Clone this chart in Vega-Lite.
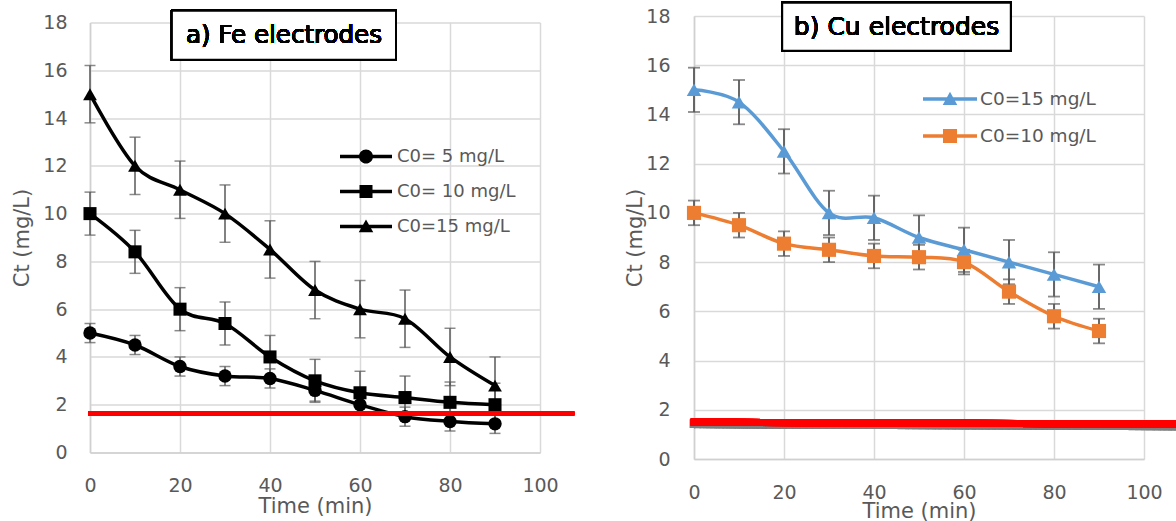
{
  "$schema": "https://vega.github.io/schema/vega-lite/v6.json",
  "background": "white",
  "padding": {"left": 11, "top": 1, "right": 0, "bottom": 0},
  "config": {
    "font": "DejaVu Sans",
    "view": {"stroke": null},
    "axis": {
      "labelFont": "DejaVu Sans", "labelFontSize": 19, "labelColor": "#595959", "labelFlush": false, "labelOverlap": false,
      "titleFont": "DejaVu Sans", "titleFontSize": 21, "titleColor": "#595959", "titleFontWeight": "normal",
      "gridColor": "#d9d9d9", "gridWidth": 1.5, "domainColor": "#d0d0d0", "domainWidth": 1.5, "ticks": false
    },
    "legend": {
      "orient": "none", "title": null, "padding": 0, "labelFont": "DejaVu Sans", "labelColor": "#595959",
      "symbolStrokeWidth": 0, "symbolOpacity": 1, "rowPadding": -6
    }
  },
  "datasets": {
    "fe": [
      {"t": 0, "ct": 5.0, "err": 0.4, "series": "C0= 5 mg/L"},
      {"t": 10, "ct": 4.5, "err": 0.4, "series": "C0= 5 mg/L"},
      {"t": 20, "ct": 3.6, "err": 0.4, "series": "C0= 5 mg/L"},
      {"t": 30, "ct": 3.2, "err": 0.4, "series": "C0= 5 mg/L"},
      {"t": 40, "ct": 3.1, "err": 0.4, "series": "C0= 5 mg/L"},
      {"t": 50, "ct": 2.6, "err": 0.45, "series": "C0= 5 mg/L"},
      {"t": 60, "ct": 2.0, "err": 0.4, "series": "C0= 5 mg/L"},
      {"t": 70, "ct": 1.5, "err": 0.4, "series": "C0= 5 mg/L"},
      {"t": 80, "ct": 1.3, "err": 0.4, "series": "C0= 5 mg/L"},
      {"t": 90, "ct": 1.2, "err": 0.4, "series": "C0= 5 mg/L"},
      {"t": 0, "ct": 10.0, "err": 0.9, "series": "C0= 10 mg/L"},
      {"t": 10, "ct": 8.4, "err": 0.9, "series": "C0= 10 mg/L"},
      {"t": 20, "ct": 6.0, "err": 0.9, "series": "C0= 10 mg/L"},
      {"t": 30, "ct": 5.4, "err": 0.9, "series": "C0= 10 mg/L"},
      {"t": 40, "ct": 4.0, "err": 0.9, "series": "C0= 10 mg/L"},
      {"t": 50, "ct": 3.0, "err": 0.9, "series": "C0= 10 mg/L"},
      {"t": 60, "ct": 2.5, "err": 0.9, "series": "C0= 10 mg/L"},
      {"t": 70, "ct": 2.3, "err": 0.9, "series": "C0= 10 mg/L"},
      {"t": 80, "ct": 2.1, "err": 0.85, "series": "C0= 10 mg/L"},
      {"t": 90, "ct": 2.0, "err": 0.9, "series": "C0= 10 mg/L"},
      {"t": 0, "ct": 15.0, "err": 1.2, "series": "C0=15 mg/L"},
      {"t": 10, "ct": 12.0, "err": 1.2, "series": "C0=15 mg/L"},
      {"t": 20, "ct": 11.0, "err": 1.2, "series": "C0=15 mg/L"},
      {"t": 30, "ct": 10.0, "err": 1.2, "series": "C0=15 mg/L"},
      {"t": 40, "ct": 8.5, "err": 1.2, "series": "C0=15 mg/L"},
      {"t": 50, "ct": 6.8, "err": 1.2, "series": "C0=15 mg/L"},
      {"t": 60, "ct": 6.0, "err": 1.2, "series": "C0=15 mg/L"},
      {"t": 70, "ct": 5.6, "err": 1.2, "series": "C0=15 mg/L"},
      {"t": 80, "ct": 4.0, "err": 1.2, "series": "C0=15 mg/L"},
      {"t": 90, "ct": 2.8, "err": 1.2, "series": "C0=15 mg/L"}
    ],
    "cu": [
      {"t": 0, "ct": 15.0, "err": 0.9, "series": "C0=15 mg/L"},
      {"t": 10, "ct": 14.5, "err": 0.9, "series": "C0=15 mg/L"},
      {"t": 20, "ct": 12.5, "err": 0.9, "series": "C0=15 mg/L"},
      {"t": 30, "ct": 10.0, "err": 0.9, "series": "C0=15 mg/L"},
      {"t": 40, "ct": 9.8, "err": 0.9, "series": "C0=15 mg/L"},
      {"t": 50, "ct": 9.0, "err": 0.9, "series": "C0=15 mg/L"},
      {"t": 60, "ct": 8.5, "err": 0.9, "series": "C0=15 mg/L"},
      {"t": 70, "ct": 8.0, "err": 0.9, "series": "C0=15 mg/L"},
      {"t": 80, "ct": 7.5, "err": 0.9, "series": "C0=15 mg/L"},
      {"t": 90, "ct": 7.0, "err": 0.9, "series": "C0=15 mg/L"},
      {"t": 0, "ct": 10.0, "err": 0.5, "series": "C0=10 mg/L"},
      {"t": 10, "ct": 9.5, "err": 0.5, "series": "C0=10 mg/L"},
      {"t": 20, "ct": 8.75, "err": 0.5, "series": "C0=10 mg/L"},
      {"t": 30, "ct": 8.5, "err": 0.5, "series": "C0=10 mg/L"},
      {"t": 40, "ct": 8.25, "err": 0.5, "series": "C0=10 mg/L"},
      {"t": 50, "ct": 8.2, "err": 0.5, "series": "C0=10 mg/L"},
      {"t": 60, "ct": 8.0, "err": 0.5, "series": "C0=10 mg/L"},
      {"t": 70, "ct": 6.8, "err": 0.5, "series": "C0=10 mg/L"},
      {"t": 80, "ct": 5.8, "err": 0.5, "series": "C0=10 mg/L"},
      {"t": 90, "ct": 5.2, "err": 0.5, "series": "C0=10 mg/L"}
    ]
  },
  "hconcat": [
    {
      "width": 450,
      "height": 430,
      "data": {"name": "fe"},
      "layer": [
        {
          "mark": {"type": "errorbar", "ticks": true, "size": 11, "thickness": 1.5, "color": "#595959"},
          "encoding": {
            "x": {"field": "t", "type": "quantitative", "scale": {"domain": [0, 100], "nice": false},
                  "axis": {"values": [0, 20, 40, 60, 80, 100], "labelPadding": 24, "titlePadding": 0, "title": "Time (min)"}},
            "y": {"field": "ct", "type": "quantitative", "scale": {"domain": [0, 18], "nice": false},
                  "axis": {"values": [0, 2, 4, 6, 8, 10, 12, 14, 16, 18], "labelPadding": 23, "titlePadding": 10, "title": "Ct (mg/L)"}},
            "yError": {"field": "err"}
          }
        },
        {
          "mark": {"type": "line", "interpolate": "cardinal", "strokeWidth": 3.5, "color": "black"},
          "encoding": {
            "x": {"field": "t", "type": "quantitative"},
            "y": {"field": "ct", "type": "quantitative"},
            "detail": {"field": "series", "type": "nominal"}
          }
        },
        {
          "mark": {"type": "point", "filled": true, "opacity": 0, "size": 10},
          "encoding": {
            "x": {"field": "t", "type": "quantitative"},
            "y": {"field": "ct", "type": "quantitative"},
            "color": {"field": "series", "type": "nominal",
                      "scale": {"domain": ["C0= 5 mg/L", "C0= 10 mg/L", "C0=15 mg/L"], "range": ["black", "black", "black"]},
                      "legend": {"orient": "none", "legendX": 250, "legendY": 108, "title": null,
                                 "labelFontSize": 18, "symbolSize": 2704, "labelOffset": 5, "symbolOpacity": 1, "symbolStrokeWidth": 0}},
            "shape": {"field": "series", "type": "nominal",
                      "scale": {"domain": ["C0= 5 mg/L", "C0= 10 mg/L", "C0=15 mg/L"],
                                "range": [
                                  "M-1,-0.067H1V0.067H-1ZM0.27,0A0.27,0.27,0,1,1,-0.27,0A0.27,0.27,0,1,1,0.27,0Z",
                                  "M-1,-0.067H1V0.067H-1ZM-0.25,-0.25H0.25V0.25H-0.25Z",
                                  "M-1,-0.067H1V0.067H-1ZM0,-0.27L0.28,0.22H-0.28Z"
                                ]},
                      "legend": {"orient": "none", "legendX": 250, "legendY": 108, "title": null,
                                 "labelFontSize": 18, "symbolSize": 2704, "labelOffset": 5, "symbolOpacity": 1, "symbolStrokeWidth": 0}}
          }
        },
        {
          "transform": [{"filter": {"field": "series", "equal": "C0= 5 mg/L"}}],
          "mark": {"type": "point", "filled": true, "size": 180, "opacity": 1, "shape": "circle", "color": "black"},
          "encoding": {"x": {"field": "t", "type": "quantitative"}, "y": {"field": "ct", "type": "quantitative"}}
        },
        {
          "transform": [{"filter": {"field": "series", "equal": "C0= 10 mg/L"}}],
          "mark": {"type": "point", "filled": true, "size": 170, "opacity": 1, "shape": "square", "color": "black"},
          "encoding": {"x": {"field": "t", "type": "quantitative"}, "y": {"field": "ct", "type": "quantitative"}}
        },
        {
          "transform": [{"filter": {"field": "series", "equal": "C0=15 mg/L"}}],
          "mark": {"type": "point", "filled": true, "size": 190, "opacity": 1, "shape": "triangle-up", "color": "black"},
          "encoding": {"x": {"field": "t", "type": "quantitative"}, "y": {"field": "ct", "type": "quantitative"}}
        },
        {
          "mark": {"type": "rule", "color": "#ff0000", "strokeWidth": 3.5},
          "encoding": {
            "x": {"datum": -0.4, "type": "quantitative"},
            "x2": {"datum": 107.6},
            "y": {"datum": 1.63, "type": "quantitative"}
          }
        },
        {
          "mark": {"type": "rect", "fill": "white", "stroke": "black", "strokeWidth": 2},
          "encoding": {
            "x": {"datum": 18.2, "type": "quantitative"},
            "x2": {"datum": 68.0},
            "y": {"datum": 18.49, "type": "quantitative"},
            "y2": {"datum": 16.44}
          }
        },
        {
          "mark": {"type": "text", "text": "a) Fe electrodes", "font": "DejaVu Sans", "fontSize": 24.5, "fontWeight": "normal", "color": "black", "align": "center", "baseline": "middle"},
          "encoding": {
            "x": {"datum": 43.1, "type": "quantitative"},
            "y": {"datum": 17.45, "type": "quantitative"}
          }
        }
      ]
    },
    {
      "width": 450,
      "height": 443,
      "data": {"name": "cu"},
      "layer": [
        {
          "mark": {"type": "errorbar", "ticks": true, "size": 12, "thickness": 1.8, "color": "#595959"},
          "encoding": {
            "x": {"field": "t", "type": "quantitative", "scale": {"domain": [0, 100], "nice": false},
                  "axis": {"values": [0, 20, 40, 60, 80, 100], "labelPadding": 24, "titlePadding": -2, "title": "Time (min)"}},
            "y": {"field": "ct", "type": "quantitative", "scale": {"domain": [0, 18], "nice": false},
                  "axis": {"values": [0, 2, 4, 6, 8, 10, 12, 14, 16, 18], "labelPadding": 24, "titlePadding": 0, "title": "Ct (mg/L)"}},
            "yError": {"field": "err"}
          }
        },
        {
          "transform": [{"filter": {"field": "series", "equal": "C0=15 mg/L"}}],
          "mark": {"type": "line", "interpolate": "cardinal", "strokeWidth": 3.5, "color": "#5b9bd5"},
          "encoding": {"x": {"field": "t", "type": "quantitative"}, "y": {"field": "ct", "type": "quantitative"}}
        },
        {
          "transform": [{"filter": {"field": "series", "equal": "C0=10 mg/L"}}],
          "mark": {"type": "line", "interpolate": "cardinal", "strokeWidth": 3.5, "color": "#ed7d31"},
          "encoding": {"x": {"field": "t", "type": "quantitative"}, "y": {"field": "ct", "type": "quantitative"}}
        },
        {
          "mark": {"type": "point", "filled": true, "opacity": 0, "size": 10},
          "encoding": {
            "x": {"field": "t", "type": "quantitative"},
            "y": {"field": "ct", "type": "quantitative"},
            "color": {"field": "series", "type": "nominal",
                      "scale": {"domain": ["C0=15 mg/L", "C0=10 mg/L"], "range": ["#5b9bd5", "#ed7d31"]},
                      "legend": {"orient": "none", "legendX": 229, "legendY": 56, "title": null,
                                 "labelFontSize": 18.5, "symbolSize": 2916, "labelOffset": 3, "symbolOpacity": 1, "symbolStrokeWidth": 0}},
            "shape": {"field": "series", "type": "nominal",
                      "scale": {"domain": ["C0=15 mg/L", "C0=10 mg/L"],
                                "range": [
                                  "M-1,-0.065H1V0.065H-1ZM0,-0.27L0.27,0.22H-0.27Z",
                                  "M-1,-0.065H1V0.065H-1ZM-0.26,-0.26H0.26V0.26H-0.26Z"
                                ]},
                      "legend": {"orient": "none", "legendX": 229, "legendY": 56, "title": null,
                                 "labelFontSize": 18.5, "symbolSize": 2916, "labelOffset": 3, "symbolOpacity": 1, "symbolStrokeWidth": 0}}
          }
        },
        {
          "transform": [{"filter": {"field": "series", "equal": "C0=15 mg/L"}}],
          "mark": {"type": "point", "filled": true, "size": 210, "opacity": 1, "shape": "triangle-up", "color": "#5b9bd5"},
          "encoding": {"x": {"field": "t", "type": "quantitative"}, "y": {"field": "ct", "type": "quantitative"}}
        },
        {
          "transform": [{"filter": {"field": "series", "equal": "C0=10 mg/L"}}],
          "mark": {"type": "point", "filled": true, "size": 200, "opacity": 1, "shape": "square", "color": "#ed7d31"},
          "encoding": {"x": {"field": "t", "type": "quantitative"}, "y": {"field": "ct", "type": "quantitative"}}
        },
        {
          "mark": {"type": "rule", "color": "#7f7f7f", "strokeWidth": 9, "opacity": 0.3},
          "encoding": {
            "x": {"datum": -0.9, "type": "quantitative"},
            "x2": {"datum": 110},
            "y": {"datum": 1.44, "type": "quantitative"},
            "y2": {"datum": 1.35}
          }
        },
        {
          "mark": {"type": "rule", "color": "#ff0000", "strokeWidth": 7},
          "encoding": {
            "x": {"datum": -0.7, "type": "quantitative"},
            "x2": {"datum": 110},
            "y": {"datum": 1.5, "type": "quantitative"},
            "y2": {"datum": 1.41}
          }
        },
        {
          "mark": {"type": "rect", "fill": "white", "stroke": "black", "strokeWidth": 2},
          "encoding": {
            "x": {"datum": 19.6, "type": "quantitative"},
            "x2": {"datum": 70.4},
            "y": {"datum": 18.54, "type": "quantitative"},
            "y2": {"datum": 16.59}
          }
        },
        {
          "mark": {"type": "text", "text": "b) Cu electrodes", "font": "DejaVu Sans", "fontSize": 25, "fontWeight": "normal", "color": "black", "align": "center", "baseline": "middle"},
          "encoding": {
            "x": {"datum": 45.0, "type": "quantitative"},
            "y": {"datum": 17.56, "type": "quantitative"}
          }
        }
      ]
    }
  ],
  "spacing": 154,
  "bounds": "flush",
  "center": true,
  "resolve": {
    "scale": {"x": "independent", "y": "independent", "color": "independent", "shape": "independent"},
    "legend": {"color": "independent", "shape": "independent"}
  }
}
